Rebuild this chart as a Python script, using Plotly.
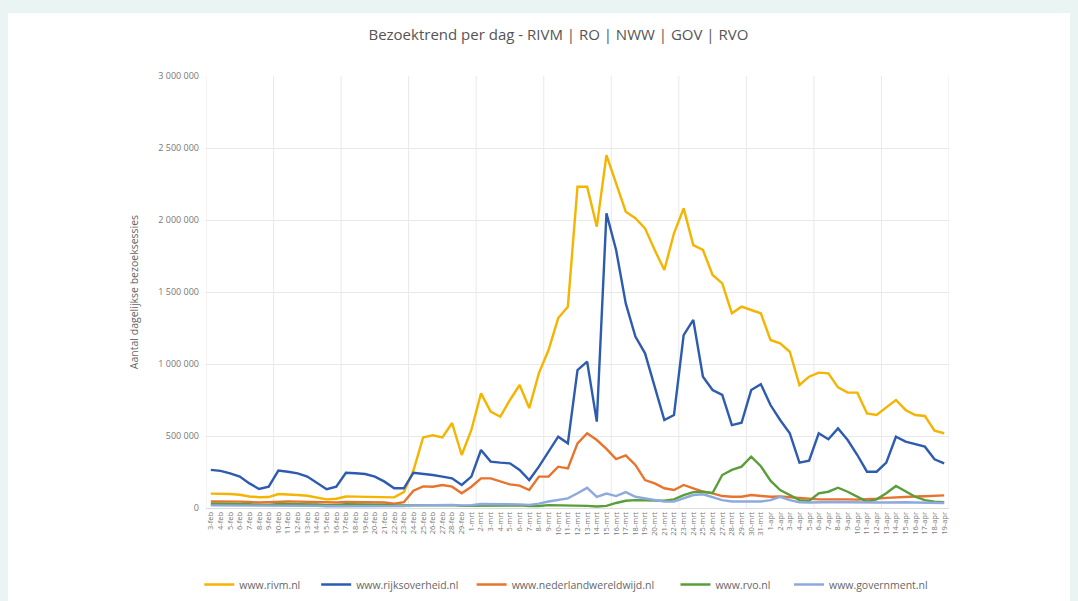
import plotly.graph_objects as go

# ---- data (thousands of daily sessions), 3 feb .. 19 apr ----
dates = ([f"{d}-feb" for d in range(3, 30)] +
         [f"{d}-mrt" for d in range(1, 32)] +
         [f"{d}-apr" for d in range(1, 20)])

rivm = [100, 100, 97, 92, 80, 75, 76,
        97, 96, 90, 85, 70, 60, 64,
        80, 79, 78, 76, 75, 74, 110,
        260, 490, 505, 490, 590, 368, 542,
        796, 669, 634, 750, 854, 694, 937,
        1097, 1319, 1398, 2231, 2231, 1954, 2451,
        2255, 2058, 2012, 1942, 1792, 1653, 1908,
        2081, 1826, 1792, 1618, 1560, 1352, 1398,
        1375, 1352, 1167, 1144, 1085, 854, 912,
        940, 935, 838, 801, 801, 657, 646,
        699, 750, 681, 646, 639, 537, 519]

rijksoverheid = [265, 258, 241, 218, 171, 132, 148,
                 260, 252, 241, 218, 171, 130, 148,
                 245, 241, 236, 218, 183, 137, 137,
                 245, 238, 229, 218, 206, 160, 218,
                 403, 322, 315, 310, 264, 194, 287,
                 391, 495, 449, 958, 1016, 600, 2046,
                 1792, 1421, 1190, 1074, 842, 611, 646,
                 1201, 1306, 912, 819, 785, 576, 592,
                 819, 860, 715, 611, 519, 315, 329,
                 519, 477, 553, 472, 368, 252, 252,
                 315, 495, 461, 444, 426, 338, 310]

nederlandwereldwijd = [45, 46, 45, 44, 42, 38, 40,
                       45, 45, 44, 43, 40, 36, 38,
                       42, 42, 41, 40, 38, 30, 40,
                       120, 150, 148, 160, 148, 102, 148,
                       206, 206, 183, 164, 155, 125, 218,
                       218, 287, 275, 449, 519, 472, 410,
                       340, 365, 299, 194, 171, 137, 125,
                       160, 137, 113, 102, 83, 78, 78,
                       90, 83, 78, 80, 75, 65, 60,
                       60, 60, 62, 60, 58, 60, 65,
                       70, 75, 78, 80, 82, 85, 88]

rvo = [30, 30, 29, 28, 26, 22, 22,
       28, 28, 27, 26, 24, 20, 20,
       26, 26, 25, 24, 22, 18, 18,
       22, 22, 22, 22, 20, 15, 15,
       20, 20, 20, 20, 18, 14, 14,
       20, 20, 20, 18, 15, 10, 15,
       35, 50, 55, 55, 55, 50, 60,
       90, 110, 113, 104, 229, 264, 287,
       356, 290, 190, 125, 90, 55, 49,
       102, 113, 141, 113, 78, 44, 60,
       102, 153, 113, 78, 55, 44, 40]

government = [18, 18, 17, 17, 16, 13, 13,
              17, 17, 16, 16, 15, 12, 12,
              16, 16, 16, 15, 15, 12, 13,
              18, 20, 20, 22, 22, 18, 20,
              28, 28, 27, 26, 25, 22, 30,
              45, 55, 67, 102, 140, 78, 100,
              83, 110, 78, 67, 55, 44, 44,
              67, 90, 95, 75, 55, 45, 45,
              42, 45, 55, 78, 55, 40, 38,
              40, 42, 42, 40, 38, 36, 38,
              38, 40, 40, 38, 36, 35, 35]

series_names = ["www.rivm.nl", "www.rijksoverheid.nl", "www.nederlandwereldwijd.nl",
                "www.rvo.nl", "www.government.nl"]
series_values = [rivm, rijksoverheid, nederlandwereldwijd, rvo, government]
series_colors = ["#F4B400", "#2D5BB0", "#E8732C", "#5A9E3A", "#8EA9DE"]
legend_pad = [4, 3, 6, 5, 0]  # extra spacing after each legend label

y_tickvals = [0, 500000, 1000000, 1500000, 2000000, 2500000, 3000000]
y_ticktext = ["0", "500 000", "1 000 000", "1 500 000", "2 000 000", "2 500 000", "3 000 000"]

fig = go.Figure()
for name, vals, col, pad in zip(series_names, series_values, series_colors, legend_pad):
    fig.add_trace(go.Scatter(
        x=dates, y=[v * 1000 for v in vals], name=name + "\u00a0" * pad, mode="lines",
        line=dict(color=col, width=2.4),
    ))

shapes = []
# white panel on light teal page
shapes.append(dict(type="rect", xref="paper", yref="paper",
                   x0=-0.2665, x1=1.1629, y0=-0.2153, y1=1.1458,
                   fillcolor="white", line=dict(width=0), layer="below"))
# weekly vertical gridlines at category boundaries
for k in range(0, len(dates) + 1, 7):
    shapes.append(dict(type="line", xref="x", yref="paper",
                       x0=k - 0.5, x1=k - 0.5, y0=0, y1=1,
                       line=dict(color="#e9e9e9", width=1), layer="below"))

fig.update_layout(
    width=1078, height=601,
    paper_bgcolor="#eaf4f3",
    plot_bgcolor="rgba(0,0,0,0)",
    margin=dict(l=206, r=129, t=76, b=93, autoexpand=False),
    font=dict(family="Open Sans, Arial, sans-serif", color="#666666"),
    title=dict(text="Bezoektrend per dag - RIVM | RO | NWW | GOV | RVO",
               x=0.518, xref="container", xanchor="center",
               y=0.942, yref="container", yanchor="middle",
               font=dict(size=15, color="#555555")),
    shapes=shapes,
    showlegend=True,
    legend=dict(orientation="h", x=-0.009, xanchor="left", y=-0.177, yanchor="middle",
                font=dict(size=10.5, color="#666666"), itemwidth=30,
                bgcolor="rgba(0,0,0,0)"),
)

fig.update_xaxes(
    type="category", range=[-0.5, len(dates) - 0.5],
    tickmode="array", tickvals=dates, ticktext=dates,
    tickangle=-90, tickfont=dict(size=7.5, color="#777777"),
    showgrid=False, zeroline=False, showline=True, linecolor="#dddddd",
    ticks="", fixedrange=True, automargin=False,
)
fig.update_yaxes(
    range=[0, 3000000], tickmode="array", tickvals=y_tickvals, ticktext=y_ticktext,
    tickfont=dict(size=9, color="#777777"), ticklabelstandoff=6,
    showgrid=True, gridcolor="#e9e9e9", gridwidth=1, zeroline=False,
    showline=False, ticks="", automargin=False,
    title=dict(text="Aantal dagelijkse bezoeksessies", font=dict(size=10.5, color="#666666"),
               standoff=17),
)

fig.write_html("out.html", config={"displayModeBar": False},
               post_script="document.body.style.margin='0';document.body.style.padding='0';")
